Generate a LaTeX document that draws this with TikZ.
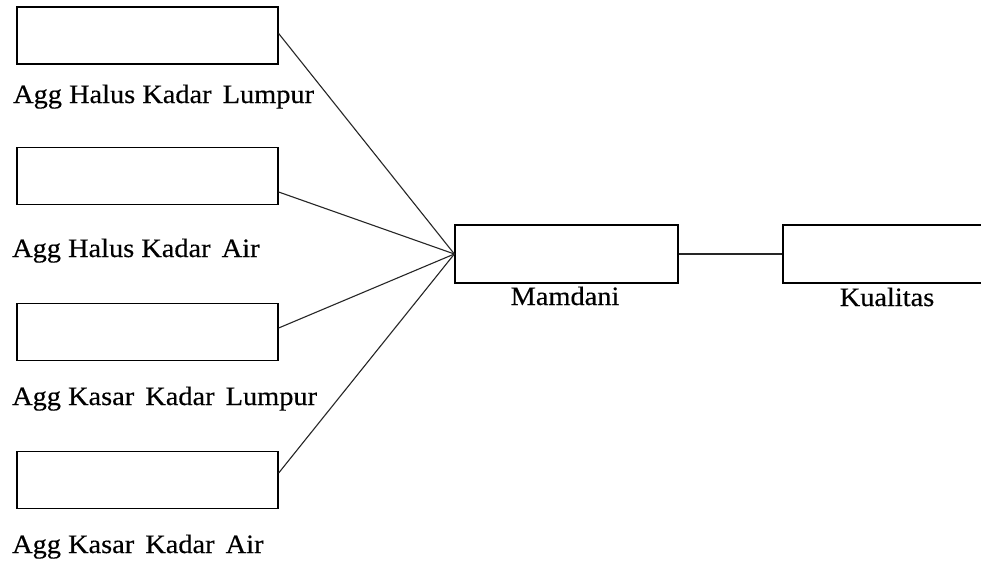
\documentclass[tikz,border=0pt]{standalone}
\usepackage{fontspec}
\setmainfont{Liberation Serif}
\newfontfamily\lblfont[FakeStretch=1.07,FakeBold=0.4]{Liberation Serif}
\usetikzlibrary{positioning}

\begin{document}
\begin{tikzpicture}[
    x=1pt, y=-1pt,
    box/.style={draw, line width=1.3pt, minimum width=261pt, minimum height=57pt, inner sep=0pt},
    lbl/.style={inner sep=0pt, font=\lblfont\fontsize{26.5}{30}\selectfont},
    conn/.style={line width=1.1pt, black!85}
]
\useasboundingbox (0,0) rectangle (981,562);
\fill[white] (0,0) rectangle (981,562);

\node[box] (hkl) at (147.5,35.5) {};
\node[box] (hka) at (147.5,176) {};
\node[box] (kkl) at (147.5,332) {};
\node[box] (kka) at (147.5,480) {};
\node[box, minimum width=223pt, minimum height=58pt] (mam) at (566.5,254) {};
\node[box, minimum width=223pt, minimum height=58pt] (kual) at (894.5,254) {};

\node[lbl, anchor=base west] (lhkl) at (13,103) {Agg Halus Kadar\hspace{4pt} Lumpur};
\node[lbl, anchor=base west] (lhka) at (12,257) {Agg Halus Kadar\hspace{4pt} Air};
\node[lbl, anchor=base west] (lkkl) at (12,405) {Agg Kasar\hspace{4pt} Kadar\hspace{4pt} Lumpur};
\node[lbl, anchor=base west] (lkka) at (12,553) {Agg Kasar\hspace{4pt} Kadar\hspace{4pt} Air};
\node[lbl, anchor=base] (lmam) at (565,305) {Mamdani};
\node[lbl, anchor=base] (lkual) at (887,306) {Kualitas};

\draw[conn] ([yshift=2pt]hkl.east) -- (mam.west);
\draw[conn] ([yshift=-16pt]hka.east) -- (mam.west);
\draw[conn] ([yshift=4pt]kkl.east) -- (mam.west);
\draw[conn] ([yshift=7pt]kka.east) -- (mam.west);
\draw[conn] (mam) -- (kual);
\end{tikzpicture}
\end{document}
